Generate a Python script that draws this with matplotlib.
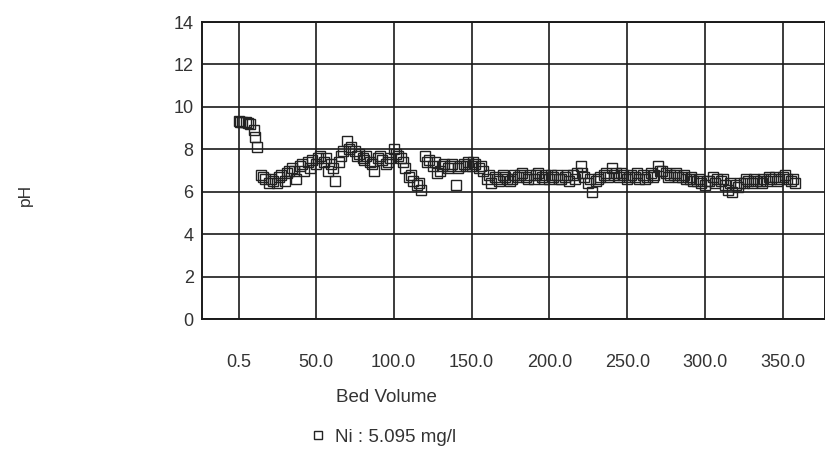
import matplotlib
matplotlib.use("Agg")
import matplotlib.pyplot as plt

bed_volume = [0.5, 2.5, 5, 7.5, 10, 12.5, 15, 17.5, 20, 22.5, 25, 27.5, 30, 32.5, 35, 37.5,
              40, 42.5, 45, 47.5, 50, 52.5, 55, 57.5, 60, 62.5, 65, 67.5, 70, 72.5, 75, 77.5,
              80, 82.5, 85, 87.5, 90, 92.5, 95, 97.5, 100, 102.5, 105, 107.5, 110, 112.5, 115,
              117.5, 120, 122.5, 125, 127.5, 130, 132.5, 135, 137.5, 140, 142.5, 145, 147.5,
              150, 152.5, 155, 157.5, 160, 162.5, 165, 167.5, 170, 172.5, 175, 177.5, 180,
              182.5, 185, 187.5, 190, 192.5, 195, 197.5, 200, 202.5, 205, 207.5, 210, 212.5,
              215, 217.5, 220, 222.5, 225, 227.5, 230, 232.5, 235, 237.5, 240, 242.5, 245,
              247.5, 250, 252.5, 255, 257.5, 260, 262.5, 265, 267.5, 270, 272.5, 275, 277.5,
              280, 282.5, 285, 287.5, 290, 292.5, 295, 297.5, 300, 302.5, 305, 307.5, 310,
              312.5, 315, 317.5, 320, 322.5, 325, 327.5, 330, 332.5, 335, 337.5, 340, 342.5,
              345, 347.5, 350, 352.5, 355, 357.5]

ph = [9.35, 9.3, 9.3, 9.2, 8.9, 8.1, 6.8, 6.6, 6.4, 6.5, 6.4, 6.8, 6.5, 7.0, 7.1, 6.6,
      7.2, 7.0, 7.4, 7.5, 7.3, 7.7, 7.4, 7.0, 7.3, 6.5, 7.4, 7.9, 8.4, 8.1, 7.9, 7.8,
      7.6, 7.7, 7.4, 7.0, 7.6, 7.5, 7.3, 7.6, 8.0, 7.7, 7.6, 7.1, 6.7, 6.5, 6.3,
      6.1, 7.7, 7.5, 7.2, 6.9, 7.0, 7.3, 7.1, 7.3, 6.3, 7.2, 7.3, 7.4,
      7.2, 7.3, 7.1, 7.0, 6.6, 6.4, 6.7, 6.5, 6.8, 6.6, 6.5, 6.8, 6.7,
      6.9, 6.7, 6.8, 6.6, 6.9, 6.7, 6.8, 6.6, 6.7, 6.8, 6.6, 6.7, 6.5,
      6.8, 6.9, 7.2, 6.7, 6.4, 6.0, 6.5, 6.7, 6.8, 6.7, 7.1, 6.9, 6.7,
      6.8, 6.6, 6.8, 6.7, 6.6, 6.8, 6.7, 6.9, 6.8, 7.2, 7.0, 6.9, 6.8,
      6.8, 6.7, 6.7, 6.6, 6.6, 6.5, 6.5, 6.4, 6.3, 6.5, 6.7, 6.6, 6.5,
      6.3, 6.1, 6.0, 6.3, 6.4, 6.4, 6.5, 6.4, 6.5, 6.5, 6.6, 6.5, 6.6,
      6.7, 6.6, 6.7, 6.6, 6.5, 6.4]

# additional samples between the ones above
bed_volume_b = [1.25, 6.25, 11.25, 16.25, 21.25, 26.25, 31.25, 36.25, 41.25, 46.25,
                51.25, 56.25, 61.25, 66.25, 71.25, 76.25, 81.25, 86.25, 91.25, 96.25,
                101.25, 106.25, 111.25, 116.25, 121.25, 126.25, 131.25, 136.25, 141.25, 146.25,
                151.25, 156.25, 161.25, 166.25, 171.25, 176.25, 181.25, 186.25, 191.25, 196.25,
                201.25, 206.25, 211.25, 216.25, 221.25, 226.25, 231.25, 236.25, 241.25, 246.25,
                251.25, 256.25, 261.25, 266.25, 271.25, 276.25, 281.25, 286.25, 291.25, 296.25,
                301.25, 306.25, 311.25, 316.25, 321.25, 326.25, 331.25, 336.25, 341.25, 346.25,
                351.25, 356.25]
ph_b = [9.3, 9.25, 8.6, 6.7, 6.6, 6.7, 6.9, 7.0, 7.3, 7.1,
        7.6, 7.6, 7.1, 7.7, 8.0, 7.7, 7.5, 7.3, 7.7, 7.4,
        7.8, 7.4, 6.8, 6.4, 7.4, 7.4, 7.2, 7.2, 7.1, 7.2,
        7.4, 7.2, 6.8, 6.6, 6.7, 6.6, 6.8, 6.6, 6.8, 6.6,
        6.8, 6.6, 6.8, 6.6, 6.9, 6.6, 6.6, 6.9, 6.8, 6.9,
        6.7, 6.9, 6.6, 6.7, 7.0, 6.7, 6.9, 6.8, 6.7, 6.6,
        6.5, 6.4, 6.6, 6.4, 6.2, 6.6, 6.6, 6.4, 6.7, 6.5,
        6.8, 6.6]

x_ticks = [0.5, 50, 100, 150, 200, 250, 300, 350]
x_tick_labels = ["0.5", "50.0", "100.0", "150.0", "200.0", "250.0", "300.0", "350.0"]
y_ticks = [0, 2, 4, 6, 8, 10, 12, 14]
series_label = "Ni : 5.095 mg/l"

plt.rcParams['font.family'] = ['Liberation Sans', 'DejaVu Sans']
txt_color = '#333333'

W, H = 825, 449
fig = plt.figure(figsize=(W / 100, H / 100), dpi=100)
left, right, top, bottom = 202, 825, 22, 319
ax = fig.add_axes([left / W, 1 - bottom / H, (right - left) / W, (bottom - top) / H])

style = dict(linestyle='none', marker='s', markersize=7.5, markerfacecolor='none',
             markeredgecolor='#222222', markeredgewidth=1.0, zorder=3)
line, = ax.plot(bed_volume, ph, label=series_label, **style)
ax.plot(bed_volume_b, ph_b, **style)

ax.set_xlim(-23.1, 377.0)
ax.set_ylim(0, 14)
ax.set_xticks(x_ticks)
ax.set_xticklabels(x_tick_labels)
ax.set_yticks(y_ticks)
ax.tick_params(axis='both', length=0, labelsize=13, colors=txt_color)
ax.tick_params(axis='x', pad=25)
ax.tick_params(axis='y', pad=6)
ax.grid(True, color='#1a1a1a', linewidth=1.2)
for s in ax.spines.values():
    s.set_color('#1a1a1a')
    s.set_linewidth(1.4)

fig.text(386 / W, 1 - 398 / H, "Bed Volume", ha='center', va='center',
         fontsize=13.5, color=txt_color)
fig.text(25 / W, 1 - 195 / H, "pH", ha='center', va='center', rotation=90,
         fontsize=12.5, color=txt_color)

fig.legend(handles=[line], loc='center', bbox_to_anchor=(383 / W, 1 - 437 / H),
           frameon=False, fontsize=13.5, markerscale=0.75, handlelength=0.8,
           handletextpad=0.5, labelcolor=txt_color)

fig.savefig("out.png", dpi=100)
